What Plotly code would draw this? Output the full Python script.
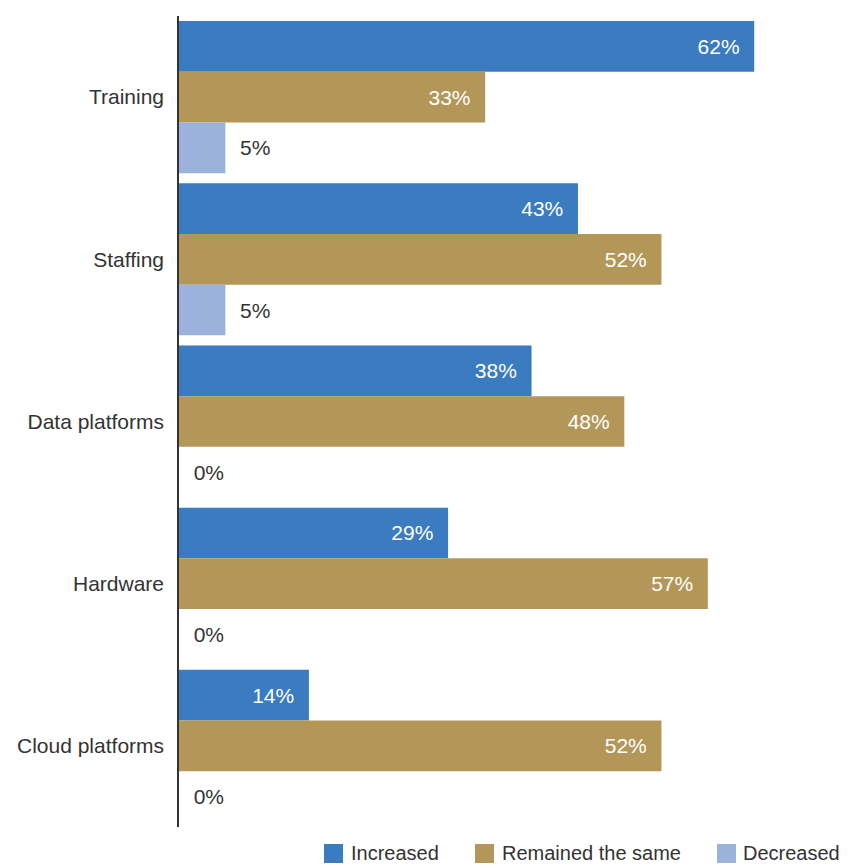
import plotly.graph_objects as go

categories = ["Training", "Staffing", "Data platforms", "Hardware", "Cloud platforms"]
increased = [62, 43, 38, 29, 14]
same = [33, 52, 48, 57, 52]
decreased = [5, 5, 0, 0, 0]
series_names = ["Increased", "Remained the same", "Decreased"]
series_colors = ["#3b7bbf", "#b39759", "#9bb2dc"]

FONT = "Liberation Sans, Arial, Helvetica, sans-serif"
FS = 21
LFS = 20
TXT = "#333333"
NB = "\u00a0"

# the page body has an 8px margin; figure coords = page coords - 8
OFF = 8
W, H = 841, 857
ML, MR, MT, MB = 179 - OFF, 2, 16 - OFF, 38
PW, PH = W - ML - MR, H - MT - MB

fig = go.Figure()
for name, vals, color in zip(series_names, [increased, same, decreased], series_colors):
    inside = name != "Decreased"
    if inside:
        tt = "%{x}%" + NB * 2
        tf = dict(color="white", size=FS, family=FONT)
    else:
        tt = NB * 2 + "%{x}%"
        tf = dict(color=TXT, size=FS, family=FONT)
    fig.add_trace(go.Bar(
        y=categories, x=vals, name=name, orientation="h",
        marker=dict(color=color, line=dict(width=0)),
        texttemplate=tt, textposition="inside" if inside else "outside",
        insidetextanchor="end",
        textfont=tf, outsidetextfont=tf, insidetextfont=tf,
        cliponaxis=False, showlegend=False,
    ))

# manual legend (19px squares + labels), positions in page pixels
legend_px = [(324, 349), (475, 500), (717, 741)]
shapes, annos = [], []
for (sx, tx), name, color in zip(legend_px, series_names, series_colors):
    sx -= OFF
    tx -= OFF
    x0 = (sx - ML) / PW
    x1 = (sx + 19 - ML) / PW
    y_top = 844 - OFF
    y_bot = 863 - OFF
    y_mid = 853 - OFF
    shapes.append(dict(type="rect", xref="paper", yref="paper", x0=x0, x1=x1,
                       y0=(H - MB - y_bot) / PH, y1=(H - MB - y_top) / PH,
                       fillcolor=color, line=dict(width=0)))
    annos.append(dict(xref="paper", yref="paper", x=(tx - ML) / PW, y=(H - MB - y_mid) / PH,
                      xanchor="left", yanchor="middle", showarrow=False, text=name,
                      font=dict(family=FONT, size=LFS, color=TXT)))

fig.update_layout(
    width=W, height=H,
    margin=dict(l=ML, r=MR, t=MT, b=MB),
    barmode="group", bargap=0.062, bargroupgap=0,
    plot_bgcolor="white", paper_bgcolor="white",
    font=dict(family=FONT, size=FS, color=TXT),
    uniformtext=dict(minsize=FS, mode="show"),
    showlegend=False,
    shapes=shapes, annotations=annos,
)
fig.update_xaxes(range=[0, 72], showgrid=False, showticklabels=False, zeroline=False,
                 showline=False, ticks="", automargin=False)
fig.update_yaxes(autorange="reversed", showgrid=False, showline=True, linecolor="#333333",
                 linewidth=1.5, ticks="", ticklabelstandoff=9, automargin=False,
                 tickfont=dict(size=FS, color=TXT))

fig.write_html("out.html")
